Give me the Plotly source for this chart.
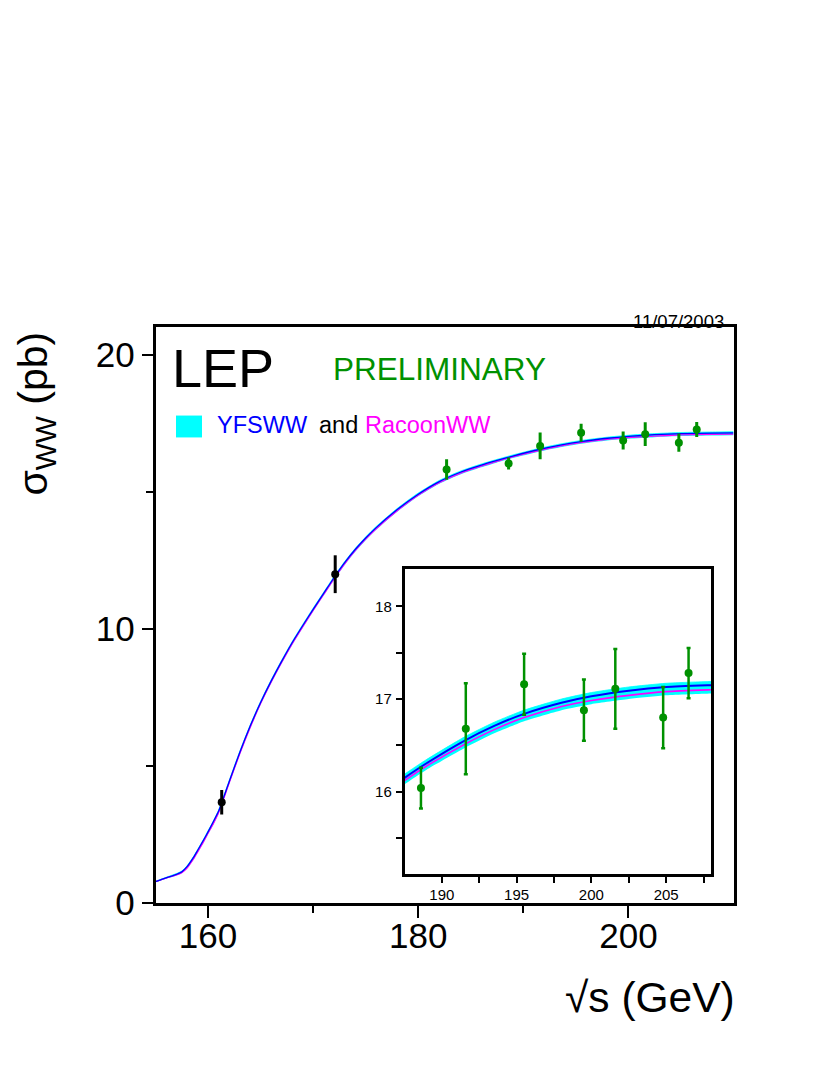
import plotly.graph_objects as go

PAGE_W, PAGE_H = 834, 1079
OFFX = 8
W, H = 818, 1059
# measured mapping of figure pixels to photographed pixels (vertical)
YSCALE, YSHIFT = 0.987, 4.4
FONT = "Liberation Sans, Arial, Helvetica, sans-serif"

# ---------------- data ----------------
energy_curve = [155, 156, 157, 157.5, 158, 158.6, 159, 159.6, 160, 160.5, 161, 162, 163, 164,
                165, 166, 167, 168, 169, 170, 171, 172, 173, 174, 175, 176, 178, 180, 182,
                184, 186, 187.5, 189, 191.5, 193.5, 195.5, 198, 200, 202.5, 205, 208, 210]
yfsww = [0.78, 0.92, 1.05, 1.14, 1.33, 1.66, 1.92, 2.32, 2.60, 2.97, 3.35, 4.42, 5.48, 6.45,
         7.32, 8.10, 8.82, 9.50, 10.12, 10.72, 11.30, 11.88, 12.42, 12.90, 13.32, 13.70, 14.36,
         14.92, 15.38, 15.72, 15.98, 16.15, 16.31, 16.55, 16.71, 16.84, 16.96, 17.03, 17.09,
         17.13, 17.15, 17.16]
racoonww = [0.78, 0.91, 1.03, 1.11, 1.28, 1.60, 1.86, 2.26, 2.55, 2.90, 3.30, 4.37, 5.43, 6.40,
            7.28, 8.06, 8.78, 9.46, 10.08, 10.68, 11.26, 11.84, 12.38, 12.86, 13.28, 13.66, 14.32,
            14.88, 15.34, 15.68, 15.94, 16.12, 16.28, 16.51, 16.67, 16.80, 16.92, 16.985, 17.04,
            17.08, 17.10, 17.11]
band_hi = [0.80, 0.94, 1.08, 1.17, 1.36, 1.69, 1.95, 2.35, 2.64, 2.99, 3.39, 4.46, 5.52, 6.49,
           7.36, 8.14, 8.86, 9.54, 10.16, 10.76, 11.34, 11.92, 12.46, 12.94, 13.36, 13.74, 14.40,
           14.96, 15.42, 15.76, 16.02, 16.19, 16.35, 16.59, 16.75, 16.88, 17.00, 17.07, 17.13,
           17.17, 17.19, 17.20]
band_lo = [0.76, 0.89, 1.01, 1.09, 1.26, 1.57, 1.83, 2.23, 2.51, 2.86, 3.26, 4.33, 5.39, 6.36,
           7.24, 8.02, 8.74, 9.42, 10.04, 10.64, 11.22, 11.80, 12.34, 12.82, 13.24, 13.62, 14.28,
           14.84, 15.30, 15.64, 15.90, 16.08, 16.24, 16.47, 16.63, 16.76, 16.88, 16.945, 17.00,
           17.04, 17.06, 17.07]

energy_lep_early = [161.3, 172.1]
sigma_lep_early = [3.68, 12.00]
err_lep_early = [0.45, 0.69]

energy_lep_late = [182.7, 188.6, 191.6, 195.5, 199.5, 201.6, 204.8, 206.5]
sigma_lep_late = [15.82, 16.04, 16.68, 17.16, 16.88, 17.11, 16.80, 17.28]
err_lep_late = [0.37, 0.22, 0.49, 0.33, 0.33, 0.43, 0.33, 0.27]

main_xticks = [160, 180, 200]
main_xminor = [170, 190]
main_yticks = [0, 10, 20]
main_yminor = [5, 15]
inset_xticks = [190, 195, 200, 205]
inset_xminor = [192.5, 197.5, 202.5, 207.5]
inset_yticks = [16, 17, 18]
inset_yminor = [15.5, 16.5, 17.5]

# ---------------- colours ----------------
CYAN = "#00FFFF"
BLUE = "#0000FF"
MAGENTA = "#FF00FF"
GREEN = "#009100"


# ---------------- geometry (window pixels -> paper) ----------------
def px_x(p):
    return (p - OFFX) / W


def px_y(p):
    return 1 - ((p - YSHIFT) / YSCALE) / H


main_dom_x = [px_x(155.5), px_x(733.5)]
main_dom_y = [px_y(904), px_y(325)]
ins_dom_x = [px_x(404.5), px_x(711)]
ins_dom_y = [px_y(875), px_y(568.5)]

MAIN_XR = [155, 210]
MAIN_YR = [0, 21.02]
INS_XR = [187.5, 208]
INS_YR = [15.11, 18.40]

fig = go.Figure()


def add_theory(xa, ya, wblue, wmag):
    fig.add_trace(go.Scatter(x=energy_curve, y=band_lo, mode="lines",
                             line=dict(color=CYAN, width=0, shape="spline", smoothing=0.6),
                             xaxis=xa, yaxis=ya, hoverinfo="skip", showlegend=False))
    fig.add_trace(go.Scatter(x=energy_curve, y=band_hi, mode="lines", fill="tonexty",
                             fillcolor=CYAN,
                             line=dict(color=CYAN, width=0.8, shape="spline", smoothing=0.6),
                             xaxis=xa, yaxis=ya, hoverinfo="skip", showlegend=False))
    fig.add_trace(go.Scatter(x=energy_curve, y=racoonww, mode="lines",
                             line=dict(color=MAGENTA, width=wmag, shape="spline", smoothing=0.6),
                             xaxis=xa, yaxis=ya, hoverinfo="skip", showlegend=False))
    fig.add_trace(go.Scatter(x=energy_curve, y=yfsww, mode="lines",
                             line=dict(color=BLUE, width=wblue, shape="spline", smoothing=0.6),
                             xaxis=xa, yaxis=ya, hoverinfo="skip", showlegend=False))


# main panel
add_theory("x", "y", 1.3, 1.3)
fig.add_trace(go.Scatter(x=energy_lep_early, y=sigma_lep_early, mode="markers",
                         marker=dict(color="black", size=8),
                         error_y=dict(type="data", array=err_lep_early, color="black",
                                      thickness=3, width=0),
                         xaxis="x", yaxis="y", showlegend=False))
fig.add_trace(go.Scatter(x=energy_lep_late, y=sigma_lep_late, mode="markers",
                         marker=dict(color=GREEN, size=8),
                         error_y=dict(type="data", array=err_lep_late, color=GREEN,
                                      thickness=3, width=0),
                         xaxis="x", yaxis="y", showlegend=False))

# inset panel
add_theory("x2", "y2", 2.0, 1.6)
fig.add_trace(go.Scatter(x=energy_lep_late[1:], y=sigma_lep_late[1:], mode="markers",
                         marker=dict(color=GREEN, size=8),
                         error_y=dict(type="data", array=err_lep_late[1:], color=GREEN,
                                      thickness=2.5, width=2),
                         xaxis="x2", yaxis="y2", showlegend=False))

tickfont_main = dict(family=FONT, size=35, color="black")
tickfont_ins = dict(family=FONT, size=15, color="black")

common = dict(showgrid=False, zeroline=False, fixedrange=True)

fig.update_layout(
    width=W, height=H, autosize=False,
    margin=dict(l=0, r=0, t=0, b=0),
    paper_bgcolor="white", plot_bgcolor="white",
    showlegend=False,
    font=dict(family=FONT, color="black"),
    # ---- main axes ----
    xaxis=dict(domain=main_dom_x, range=MAIN_XR, anchor="y",
               tickmode="array", tickvals=main_xticks, ticktext=[str(v) for v in main_xticks],
               ticks="outside", ticklen=12, tickwidth=2, tickcolor="black",
               tickfont=tickfont_main, ticklabelstandoff=-12,
               showline=True, linewidth=2.5, linecolor="black", mirror=True,
               minor=dict(tickvals=main_xminor, ticks="outside", ticklen=7,
                          tickwidth=2, tickcolor="black"),
               **common),
    yaxis=dict(domain=main_dom_y, range=MAIN_YR, anchor="x",
               tickmode="array", tickvals=main_yticks, ticktext=[str(v) for v in main_yticks],
               ticks="outside", ticklen=11, tickwidth=2, tickcolor="black",
               tickfont=tickfont_main, ticklabelstandoff=0,
               showline=True, linewidth=2.5, linecolor="black", mirror=True,
               minor=dict(tickvals=main_yminor, ticks="outside", ticklen=7,
                          tickwidth=2, tickcolor="black"),
               **common),
    xaxis3=dict(overlaying="x", side="top", anchor="y", range=MAIN_XR,
                tickmode="array", tickvals=main_xticks,
                ticks="inside", ticklen=19, tickwidth=2, tickcolor="black",
                showticklabels=False, showline=False,
                minor=dict(tickvals=main_xminor, ticks="inside", ticklen=10,
                           tickwidth=2, tickcolor="black"),
                **common),
    yaxis3=dict(overlaying="y", side="right", anchor="x", range=MAIN_YR,
                tickmode="array", tickvals=main_yticks,
                ticks="inside", ticklen=18, tickwidth=2, tickcolor="black",
                showticklabels=False, showline=False,
                minor=dict(tickvals=main_yminor, ticks="inside", ticklen=9,
                           tickwidth=2, tickcolor="black"),
                **common),
    # ---- inset axes ----
    xaxis2=dict(domain=ins_dom_x, range=INS_XR, anchor="y2",
                tickmode="array", tickvals=inset_xticks, ticktext=[str(v) for v in inset_xticks],
                ticks="outside", ticklen=6, tickwidth=1.5, tickcolor="black",
                tickfont=tickfont_ins, ticklabelstandoff=-1,
                showline=True, linewidth=2.5, linecolor="black", mirror=True,
                minor=dict(tickvals=inset_xminor, ticks="outside", ticklen=6,
                           tickwidth=1.5, tickcolor="black"),
                **common),
    yaxis2=dict(domain=ins_dom_y, range=INS_YR, anchor="x2",
                tickmode="array", tickvals=inset_yticks, ticktext=[str(v) for v in inset_yticks],
                ticks="outside", ticklen=6, tickwidth=1.5, tickcolor="black",
                tickfont=tickfont_ins, ticklabelstandoff=1,
                showline=True, linewidth=2.5, linecolor="black", mirror=True,
                minor=dict(tickvals=inset_yminor, ticks="outside", ticklen=6,
                           tickwidth=1.5, tickcolor="black"),
                **common),
    xaxis4=dict(overlaying="x2", side="top", anchor="y2", range=INS_XR,
                tickmode="array", tickvals=inset_xticks,
                ticks="inside", ticklen=10, tickwidth=1.5, tickcolor="black",
                showticklabels=False, showline=False,
                minor=dict(tickvals=inset_xminor, ticks="inside", ticklen=10,
                           tickwidth=1.5, tickcolor="black"),
                **common),
    yaxis4=dict(overlaying="y2", side="right", anchor="x2", range=INS_YR,
                tickmode="array", tickvals=inset_yticks,
                ticks="inside", ticklen=6, tickwidth=1.5, tickcolor="black",
                showticklabels=False, showline=False,
                minor=dict(tickvals=inset_yminor, ticks="inside", ticklen=6,
                           tickwidth=1.5, tickcolor="black"),
                **common),
)

# legend swatch
fig.add_shape(type="rect", xref="paper", yref="paper",
              x0=px_x(176), x1=px_x(202), y0=px_y(436), y1=px_y(414),
              fillcolor=CYAN, line=dict(width=0))


def text(s, x, y, size, color="black", xanchor="left", angle=0):
    fig.add_annotation(text=s, xref="paper", yref="paper", x=px_x(x), y=px_y(y),
                       xanchor=xanchor, yanchor="middle", showarrow=False,
                       textangle=angle, borderpad=0,
                       font=dict(family=FONT, size=size, color=color))


text("LEP", 171, 366, 54)
text("PRELIMINARY", 332, 367, 31.5, GREEN)
text("YFSWW", 216, 423, 23.5, BLUE)
text("and", 318, 423, 23.5, "black")
text("RacoonWW", 364, 423, 23.5, MAGENTA)
text("11/07/2003", 632, 319, 18.5)
text("σ<sub>WW</sub> (pb)", 36, 412, 41, angle=-90, xanchor="center")
text("√s (GeV)", 736, 999, 42.5, xanchor="right")

fig.write_html("out.html")
